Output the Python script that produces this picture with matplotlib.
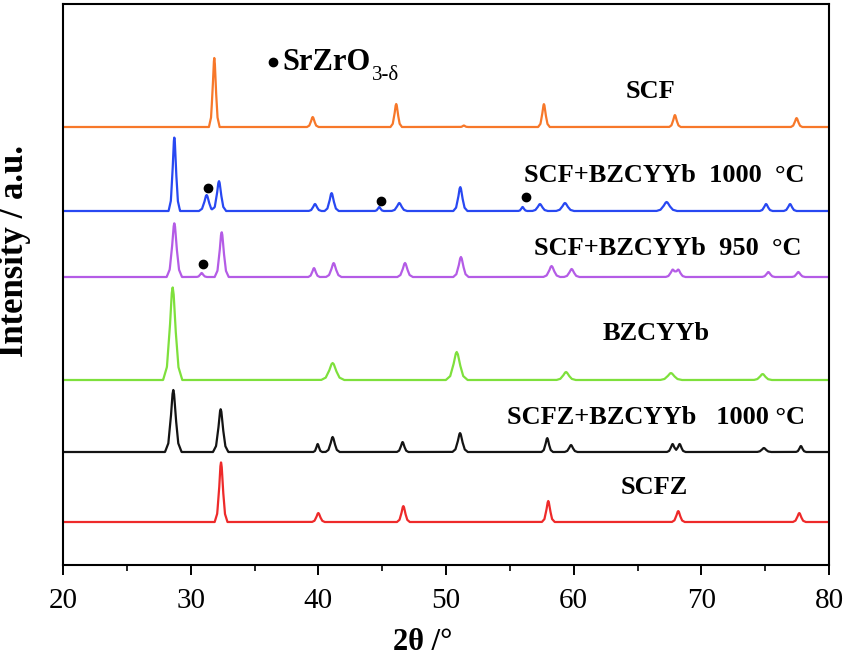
import matplotlib
matplotlib.use("Agg")
import matplotlib.pyplot as plt
import numpy as np

# ---------------- data ----------------
series_names = ["SCF", "SCF+BZCYYb 1000 °C", "SCF+BZCYYb 950 °C",
                "BZCYYb", "SCFZ+BZCYYb 1000 °C", "SCFZ"]
series_colors = ["#F7782A", "#2848F2", "#B45CE6", "#7EE03C", "#141414", "#EE2A2A"]
baselines = [438, 354, 288, 185, 113, 43]

# peak positions (2θ), heights (a.u.), half base widths (2θ)
scf_pos = [31.85, 39.56, 46.10, 51.40, 57.67, 67.93, 77.46]
scf_hgt = [69, 10, 23, 1.5, 23, 12, 9]
scf_wid = [0.42, 0.45, 0.45, 0.3, 0.45, 0.45, 0.45]

scf1000_pos = [28.72, 31.25, 32.22, 39.74, 41.04, 44.77, 46.34, 51.12, 56.00, 57.36, 59.32, 67.28, 75.07, 76.95]
scf1000_hgt = [74, 16, 30, 7, 18, 4, 8, 24, 4, 7, 8, 9, 7, 7]
scf1000_wid = [0.45, 0.6, 0.55, 0.5, 0.55, 0.35, 0.6, 0.55, 0.35, 0.6, 0.7, 0.8, 0.5, 0.5]

scf950_pos = [28.72, 30.86, 32.43, 39.66, 41.20, 46.79, 51.17, 58.27, 59.84, 67.75, 68.20, 75.25, 77.60]
scf950_hgt = [54, 4, 45, 9, 14, 14, 20, 11, 8, 7, 7, 5, 5]
scf950_wid = [0.6, 0.4, 0.55, 0.45, 0.6, 0.6, 0.6, 0.65, 0.6, 0.55, 0.55, 0.5, 0.5]

bzcyyb_pos = [28.59, 41.12, 50.84, 59.40, 67.62, 74.80]
bzcyyb_hgt = [93, 17, 28, 8, 7, 6]
bzcyyb_wid = [0.75, 0.9, 0.85, 0.75, 0.85, 0.7]

scfz1000_pos = [28.64, 32.35, 39.95, 41.12, 46.60, 51.10, 57.93, 59.79, 67.75, 68.30, 74.90, 77.80]
scfz1000_hgt = [62, 43, 8, 15, 10, 19, 14, 7, 8, 8, 4, 6]
scfz1000_wid = [0.65, 0.6, 0.35, 0.55, 0.45, 0.6, 0.45, 0.5, 0.45, 0.45, 0.55, 0.4]

scfz_pos = [32.38, 40.00, 46.66, 58.01, 68.19, 77.67]
scfz_hgt = [60, 9, 16, 21, 11, 9]
scfz_wid = [0.5, 0.5, 0.5, 0.5, 0.5, 0.5]

peak_tables = [
    (scf_pos, scf_hgt, scf_wid),
    (scf1000_pos, scf1000_hgt, scf1000_wid),
    (scf950_pos, scf950_hgt, scf950_wid),
    (bzcyyb_pos, bzcyyb_hgt, bzcyyb_wid),
    (scfz1000_pos, scfz1000_hgt, scfz1000_wid),
    (scfz_pos, scfz_hgt, scfz_wid),
]

# SrZrO3-δ markers (2θ, intensity) on the patterns
dot_x = [31.38, 44.91, 56.24, 30.94]
dot_y = [377, 364, 368, 301]

x_ticks = [20, 30, 40, 50, 60, 70, 80]

# ---------------- drawing ----------------
plt.rcParams['font.family'] = ['Liberation Serif', 'DejaVu Serif']
fig = plt.figure(figsize=(8.49, 6.60), dpi=100)
ax = fig.add_axes([63 / 849, 95 / 660, 766 / 849, 561 / 660])

# peak template (relative offsets / heights)
tx = np.array([-1.0, -0.6, -0.3, -0.1, 0.0, 0.1, 0.3, 0.6, 1.0])
ty = np.array([0.0, 0.14, 0.55, 0.93, 1.0, 0.93, 0.55, 0.14, 0.0])
grid = np.linspace(20, 80, 4001)

for (pos, hgt, wid), base, color in zip(peak_tables, baselines, series_colors):
    y = np.full_like(grid, float(base))
    for c, h, w in zip(pos, hgt, wid):
        y += np.interp(grid, c + w * tx, h * ty, left=0, right=0)
    ax.plot(grid, y, color=color, lw=1.6, solid_joinstyle='round')

ax.plot(dot_x, dot_y, 'o', color='black', ms=6, ls='none')

# labels on the curves
label_pos = [(65.98, 473), (67.1, 390), (67.4, 317), (66.5, 232), (66.45, 147), (66.33, 78)]
label_texts = ["SCF", "SCF+BZCYYb  1000  °C", "SCF+BZCYYb  950  °C",
               "BZCYYb", "SCFZ+BZCYYb   1000 °C", "SCFZ"]
for (lx, ly), txt in zip(label_pos, label_texts):
    ax.text(lx, ly, txt, ha='center', va='center', fontsize=19, fontweight='bold')

# legend-like annotation
ax.plot([36.45], [503], 'o', color='black', ms=6)
t = ax.text(37.15, 503, "SrZrO", ha='left', va='center', fontsize=22, fontweight='bold')
ax.annotate("3-δ", xy=(1, 0), xycoords=t, xytext=(1, -2.5), textcoords='offset points',
            ha='left', va='baseline', fontsize=15, fontweight='normal')

ax.set_xlim(20, 80)
ax.set_ylim(0, 561)
ax.set_xticks(x_ticks)
ax.set_xticks(np.arange(25, 80, 10), minor=True)
ax.set_yticks([])
ax.tick_params(axis='x', which='major', direction='out', length=7.5, width=1.4,
               labelsize=21, pad=9)
ax.tick_params(axis='x', which='minor', direction='out', length=4.5, width=1.2)
for s in ax.spines.values():
    s.set_linewidth(1.5)

ax.set_xlabel("2θ /°", fontsize=22, fontweight='bold', va='center')
ax.xaxis.set_label_coords(0.469, -0.139)
ax.set_ylabel("Intensity / a.u.", fontsize=25, fontweight='bold', va='center')
ax.yaxis.set_label_coords(-0.0627, 0.56)

fig.savefig("out.png", dpi=100)
